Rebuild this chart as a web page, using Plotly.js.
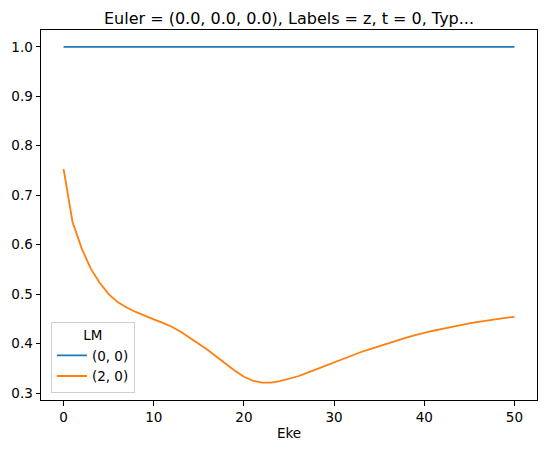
<!DOCTYPE html>
<html>
<head>
<meta charset="utf-8">
<script src="https://cdn.plot.ly/plotly-3.0.1.min.js"></script>
<style>html,body{margin:0;padding:0;background:#fff;}#chart{width:547px;height:453px;}</style>
</head>
<body>
<div id="chart"></div>
<script>
const eke = [0,1,2,3,4,5,6,7,8,9,10,11,12,13,14,15,16,17,18,19,20,21,22,23,24,25,26,27,28,29,30,31,32,33,34,35,36,37,38,39,40,41,42,43,44,45,46,47,48,49,50];
const lm00 = eke.map(() => 1.0);
const lm20 = [0.753,0.646,0.593,0.552,0.523,0.500,0.484,0.473,0.464,0.456,0.449,0.442,0.434,0.424,0.412,0.400,0.387,0.373,0.359,0.345,0.333,0.325,0.321,0.321,0.324,0.329,0.334,0.341,0.348,0.355,0.362,0.370,0.377,0.383,0.389,0.395,0.401,0.407,0.412,0.417,0.422,0.426,0.430,0.434,0.438,0.441,0.444,0.447,0.449,0.452,0.454];
const seriesNames = ["(0, 0)", "(2, 0)"];
const xTicks = [0,10,20,30,40,50];
const yTicks = [0.3,0.4,0.5,0.6,0.7,0.8,0.9,1.0];
const yTickText = yTicks.map(v => v.toFixed(1));

const font = {family: "DejaVu Sans", size: 13.5, color: "#000"};
const traces = [
  {x: eke, y: lm00, mode: "lines", name: seriesNames[0], line: {color: "#1f77b4", width: 1.8}},
  {x: eke, y: lm20, mode: "lines", name: seriesNames[1], line: {color: "#ff7f0e", width: 1.8}}
];
const axisCommon = {showline: true, linecolor: "#000", linewidth: 1, mirror: true, ticks: "outside", ticklen: 4.5, tickwidth: 1, tickcolor: "#000", showgrid: false, zeroline: false, tickfont: font};
const layout = {
  width: 547, height: 453,
  margin: {l: 41, r: 10, t: 30, b: 53},
  paper_bgcolor: "#fff", plot_bgcolor: "#fff",
  font: font,
  title: {text: "Euler = (0.0, 0.0, 0.0), Labels = z, t = 0, Typ...", font: {family: "DejaVu Sans", size: 16, color: "#000"}, x: 0.5, xref: "paper", y: 1, yref: "paper", yanchor: "bottom", pad: {b: 6}},
  xaxis: Object.assign({}, axisCommon, {range: [-2.5, 52.5], tickvals: xTicks, title: {text: "Eke", font: font, standoff: 4}}),
  yaxis: Object.assign({}, axisCommon, {range: [0.286, 1.034], tickvals: yTicks, ticktext: yTickText}),
  showlegend: true,
  legend: {x: 0.02, y: 0.02, xanchor: "left", yanchor: "bottom", bgcolor: "rgba(255,255,255,0.8)", bordercolor: "#d0d0d0", borderwidth: 1, font: font, title: {text: "LM", side: "top center", font: font}, tracegroupgap: 0, itemwidth: 30}
};
Plotly.newPlot("chart", traces, layout, {staticPlot: true, displayModeBar: false});
</script>
</body>
</html>
